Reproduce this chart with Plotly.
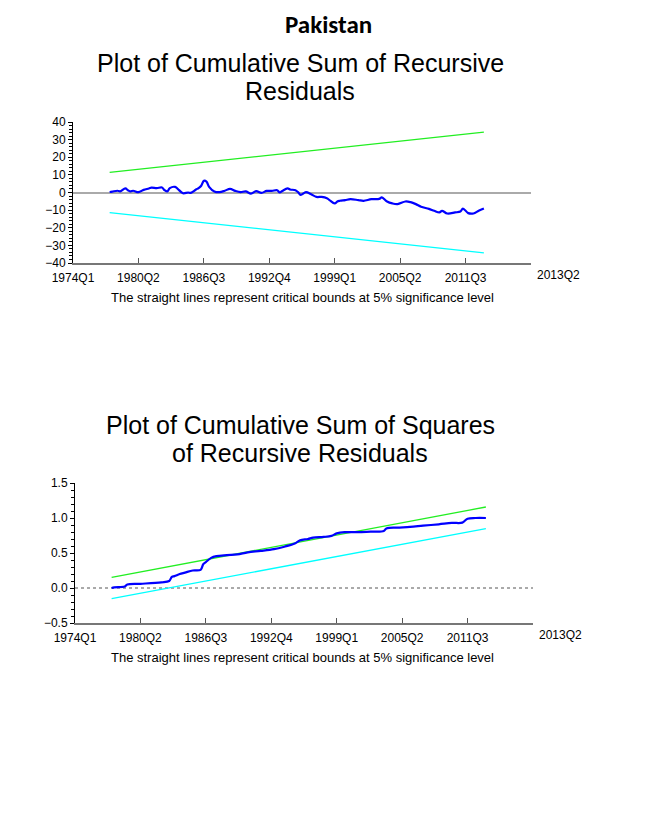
import plotly.graph_objects as go


# ─────────────────────────────────────────────────────────────────────────────
# DATA (Pakistan)
# ─────────────────────────────────────────────────────────────────────────────

axis_quarters = ['1974Q1', '1980Q2', '1986Q3', '1992Q4', '1999Q1', '2005Q2', '2011Q3']
axis_end_label = '2013Q2'

# CUSUM of recursive residuals
cusum_quarters = [
    '1977Q3', '1977Q4', '1978Q2', '1978Q3', '1979Q1', '1979Q2', '1979Q3', '1979Q4',
    '1980Q2', '1980Q4', '1981Q2', '1981Q3', '1982Q1', '1982Q3', '1982Q4', '1983Q1',
    '1983Q2', '1983Q4', '1984Q1', '1984Q3', '1985Q1', '1985Q2', '1985Q4', '1986Q1',
    '1986Q2', '1986Q3', '1986Q4', '1987Q1', '1987Q3', '1988Q1', '1988Q3', '1989Q1',
    '1989Q3', '1990Q1', '1990Q3', '1991Q1', '1991Q3', '1992Q1', '1992Q3', '1993Q1',
    '1993Q3', '1993Q4', '1994Q1', '1994Q3', '1994Q4', '1995Q2', '1995Q3', '1995Q4',
    '1996Q2', '1996Q4', '1997Q2', '1997Q4', '1998Q2', '1998Q3', '1999Q1', '1999Q2',
    '1999Q3', '2000Q1', '2000Q3', '2001Q2', '2001Q4', '2002Q3', '2003Q2', '2003Q3',
    '2004Q1', '2004Q3', '2005Q1', '2005Q4', '2006Q2', '2006Q4', '2007Q2', '2008Q1',
    '2008Q3', '2009Q1', '2009Q2', '2009Q4', '2010Q3', '2011Q1', '2011Q2', '2011Q4',
    '2012Q2', '2012Q4', '2013Q2',
]
cusum_values = [
    0.3, 0.5, 1.0, 0.6, 2.3, 1.3, 0.6, 1.0,
    0.2, 1.5, 2.3, 2.8, 2.5, 2.8, 1.3, 0.6,
    2.5, 3.2, 2.1, -0.4, 0.0, -0.2, 1.7, 2.5,
    3.8, 6.6, 6.2, 3.2, 0.6, 0.2, 1.0, 2.1,
    0.9, 0.2, 0.6, -0.6, 0.8, -0.2, 0.9, 0.9,
    1.3, 0.0, 0.9, 2.3, 1.7, 1.3, 0.2, -1.3,
    0.2, -1.0, -2.5, -2.5, -3.2, -4.3, -6.2, -5.1,
    -4.7, -4.3, -3.8, -4.3, -4.7, -3.8, -3.6, -2.8,
    -5.1, -6.2, -6.6, -5.1, -5.5, -6.6, -8.1, -9.3,
    -10.4, -11.3, -10.4, -11.9, -11.3, -10.8, -9.1, -11.7,
    -11.9, -10.4, -9.1,
]

# CUSUM of squares of recursive residuals
cusumsq_quarters = [
    '1977Q3', '1977Q4', '1978Q4', '1979Q1', '1980Q2', '1982Q2', '1983Q1', '1983Q2',
    '1983Q3', '1984Q1', '1984Q3', '1985Q2', '1986Q1', '1986Q2', '1986Q3', '1987Q1',
    '1987Q3', '1988Q3', '1989Q3', '1990Q3', '1991Q4', '1993Q1', '1994Q1', '1995Q1',
    '1995Q3', '1996Q2', '1996Q4', '1997Q4', '1998Q3', '1999Q1', '1999Q4', '2001Q1',
    '2002Q2', '2003Q3', '2003Q4', '2004Q4', '2006Q1', '2007Q2', '2008Q4', '2010Q1',
    '2011Q1', '2011Q3', '2012Q2', '2013Q2',
]
cusumsq_values = [
    0.00, 0.01, 0.02, 0.05, 0.06, 0.08, 0.10, 0.16,
    0.17, 0.20, 0.22, 0.25, 0.26, 0.34, 0.37, 0.43,
    0.455, 0.47, 0.48, 0.51, 0.53, 0.555, 0.59, 0.635,
    0.68, 0.70, 0.72, 0.73, 0.745, 0.78, 0.797, 0.797,
    0.806, 0.815, 0.85, 0.863, 0.872, 0.89, 0.91, 0.93,
    0.934, 0.99, 1.0, 1.0,
]

# 5% critical bounds (straight lines, start and end points)
bound_quarters = ['1977Q3', '2013Q2']
cusum_upper = [11.4, 34.2]
cusum_lower = [-11.4, -34.2]
cusumsq_upper = [0.152, 1.157]
cusumsq_lower = [-0.152, 0.849]


def qidx(label):
    """Quarter label -> number of quarters since 1974Q1."""
    year, q = label.split('Q')
    return (int(year) - 1974) * 4 + int(q) - 1


GREEN = '#22ee22'
CYAN = '#00ffff'
BLUE = '#0000ff'
FONT = 'Liberation Sans, Arial, sans-serif'

# the page body keeps its 8px margin, so lay out in a slightly smaller canvas
OFF = 8
W, H = 659 - OFF, 821 - OFF


def fx(px):
    return (px - OFF) / W


def fy(py):
    return 1 - (py - OFF) / H


fig = go.Figure()


def add_panel(fig, xa, ya, series_q, series_v, upper, lower):
    bx = [qidx(q) for q in bound_quarters]
    fig.add_trace(go.Scatter(x=bx, y=upper, mode='lines', xaxis=xa, yaxis=ya,
                             line=dict(color=GREEN, width=1.3), showlegend=False))
    fig.add_trace(go.Scatter(x=bx, y=lower, mode='lines', xaxis=xa, yaxis=ya,
                             line=dict(color=CYAN, width=1.3), showlegend=False))
    fig.add_trace(go.Scatter(x=[qidx(q) for q in series_q], y=series_v, mode='lines',
                             xaxis=xa, yaxis=ya, line=dict(color=BLUE, width=2.2),
                             line_shape='spline', showlegend=False))


add_panel(fig, 'x', 'y', cusum_quarters, cusum_values, cusum_upper, cusum_lower)
add_panel(fig, 'x2', 'y2', cusumsq_quarters, cusumsq_values, cusumsq_upper, cusumsq_lower)

xticks = [qidx(q) for q in axis_quarters] + [175]
xtext = axis_quarters + ['']

xcommon = dict(
    range=[0, 175], tickvals=xticks, ticktext=xtext, automargin=False,
    ticks='inside', ticklen=5, tickcolor='#555555', ticklabelstandoff=3,
    showline=True, linecolor='#777777', linewidth=1.5,
    showgrid=False, zeroline=False,
    tickfont=dict(family=FONT, size=12, color='black'),
)
ycommon = dict(
    showline=True, linecolor='black', linewidth=1, automargin=False,
    ticks='outside', ticklen=4, tickcolor='black',
    showgrid=False,
    tickfont=dict(family=FONT, size=12, color='black'),
)

fig.update_layout(
    width=W, height=H,
    paper_bgcolor='white', plot_bgcolor='white',
    margin=dict(l=0, r=0, t=0, b=0),
    xaxis=dict(domain=[fx(73), fx(531)], anchor='y', **xcommon),
    yaxis=dict(domain=[fy(263), fy(122)], anchor='x', range=[-40, 40], dtick=10,
               zeroline=True, zerolinecolor='#aaaaaa', zerolinewidth=1.5,
               minor=dict(dtick=2, ticks='outside', ticklen=3, tickcolor='black'),
               **ycommon),
    xaxis2=dict(domain=[fx(75), fx(533)], anchor='y2', **xcommon),
    yaxis2=dict(domain=[fy(623), fy(483)], anchor='x2', range=[-0.5, 1.5], dtick=0.5,
                tickformat='.1f', zeroline=False,
                minor=dict(dtick=0.1, ticks='outside', ticklen=3, tickcolor='black'),
                **ycommon),
)

# thin dotted zero line on the CUSUMSQ panel
fig.add_shape(type='line', xref='x2', yref='y2', x0=0, x1=175, y0=0, y1=0,
              line=dict(color='#555555', width=1, dash='dot'), layer='below')

# country heading, pinned to the top edge of the canvas
fig.add_annotation(
    text='<b>Pakistan</b>', x=fx(328), y=1, xref='paper', yref='paper',
    xanchor='center', yanchor='top', showarrow=False, borderpad=0,
    font=dict(family='Carlito, Lato, sans-serif', size=25, color='black'),
)

texts = [
    # text, x, y (pixels), size
    ('Plot of Cumulative Sum of Recursive', 300, 63, 25),
    ('Residuals', 300, 91, 25),
    ('The straight lines represent critical bounds at 5% significance level', 302, 297, 13),
    ('Plot of Cumulative Sum of Squares', 300, 425, 25),
    ('of Recursive Residuals', 300, 453, 25),
    ('The straight lines represent critical bounds at 5% significance level', 302, 657, 13),
]
for txt, px, py, size in texts:
    fig.add_annotation(
        text=txt, x=fx(px), y=fy(py), xref='paper', yref='paper',
        xanchor='center', yanchor='middle', showarrow=False, align='center',
        font=dict(family=FONT, size=size, color='black'),
    )

# axis end label sits to the right of the last tick
for y_px, xa in ((263, 'x'), (623, 'x2')):
    fig.add_annotation(
        text=axis_end_label, x=175, xref=xa, y=fy(y_px), yref='paper',
        xanchor='left', yanchor='top', xshift=4, yshift=-3, showarrow=False,
        font=dict(family=FONT, size=12, color='black'),
    )

fig.write_html('out.html')
